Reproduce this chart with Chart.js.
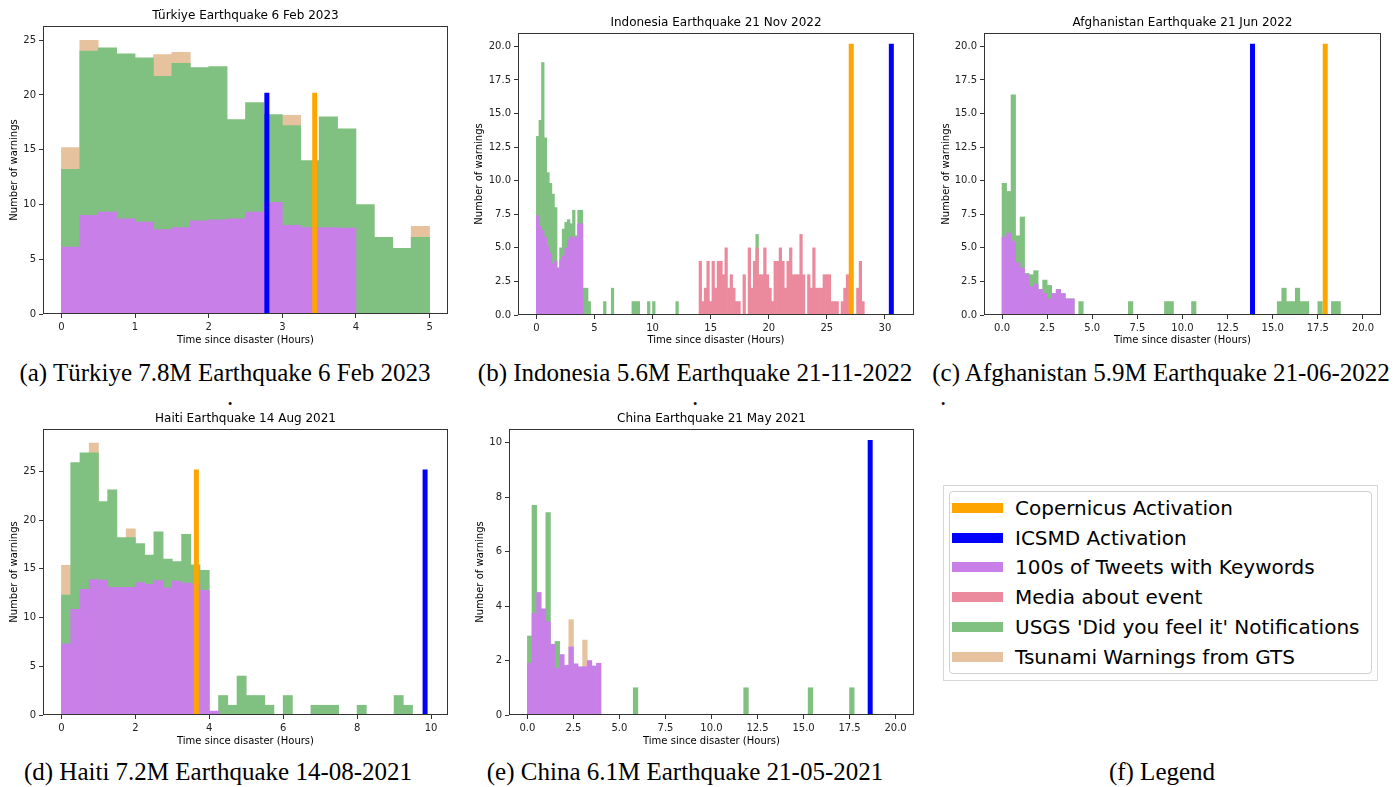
<!DOCTYPE html>
<html>
<head>
<meta charset="utf-8">
<script src="https://cdn.jsdelivr.net/npm/chart.js@4.4.1/dist/chart.umd.min.js"></script>
<style>
  body { margin: 0; background: #fff; width: 1395px; height: 787px; position: relative; overflow: hidden; font-family: 'DejaVu Sans', sans-serif; }
  .plot { position: absolute; }
  .cap { position: absolute; width: 600px; text-align: center; white-space: nowrap;
         font-family: 'Liberation Serif', 'Times New Roman', serif; font-size: 25px; line-height: 28px; color: #000; }
  #legendOuter { position: absolute; left: 943px; top: 485px; width: 435px; height: 196px; border: 1px solid #d8d8d8; box-sizing: border-box; }
  #legend { position: absolute; left: 949px; top: 491px; width: 423px; height: 183px; border: 1.5px solid #d0d0d0; border-radius: 4px; box-sizing: border-box; }
  .item { position: absolute; left: 0; height: 30px; line-height: 30px; font-size: 20px; color: #000; white-space: nowrap; }
  .item span.patch { position: absolute; left: 2px; top: 10px; width: 51px; height: 10px; }
  .item span.txt { position: absolute; left: 65px; top: 0; }
</style>
</head>
<body>

<div class="plot" id="tur"><canvas></canvas></div>
<div class="plot" id="indo"><canvas></canvas></div>
<div class="plot" id="afg"><canvas></canvas></div>
<div class="plot" id="hai"><canvas></canvas></div>
<div class="plot" id="chi"><canvas></canvas></div>

<div class="cap" style="left:-75px;top:359px">(a) Türkiye 7.8M Earthquake 6 Feb 2023</div>
<div class="cap" style="left:395px;top:359px">(b) Indonesia 5.6M Earthquake 21-11-2022</div>
<div class="cap" style="left:861px;top:359px">(c) Afghanistan 5.9M Earthquake 21-06-2022</div>
<div class="cap" style="left:-70px;top:383px">.</div>
<div class="cap" style="left:395px;top:383px">.</div>
<div class="cap" style="left:643px;top:383px">.</div>
<div class="cap" style="left:-82px;top:758px">(d) Haiti 7.2M Earthquake 14-08-2021</div>
<div class="cap" style="left:385px;top:758px">(e) China 6.1M Earthquake 21-05-2021</div>
<div class="cap" style="left:862px;top:758px">(f) Legend</div>

<div id="legendOuter"></div>
<div id="legend"></div>

<script>
// colours
const COPERNICUS = '#ffa500';
const ICSMD = '#0000ff';
const TWEETS = '#c880e8';
const MEDIA = '#ec8a9d';
const USGS = '#80c080';
const TSUNAMI = '#e6c29f';

const legendLabels = ['Copernicus Activation', 'ICSMD Activation', '100s of Tweets with Keywords',
  'Media about event', "USGS 'Did you feel it' Notifications", 'Tsunami Warnings from GTS'];
const legendColors = [COPERNICUS, ICSMD, TWEETS, MEDIA, USGS, TSUNAMI];

// ---- Türkiye, bins of 0.25 h
const turBin = 0.25;
const turTweets = [6.1, 9.0, 9.3, 8.7, 8.4, 7.7, 7.9, 8.5, 8.6, 8.7, 9.3, 10.2, 8.1, 7.9, 7.9, 7.85];
const turUsgs = [13.2, 24.0, 24.3, 23.75, 23.4, 21.7, 22.9, 22.5, 22.6, 17.75,
  19.3, 18.2, 17.2, 14.0, 18.0, 16.9, 10.0, 7.0, 6.0, 7.0];
const turTsunami = [15.2, 25.0, 0, 0, 0, 23.7, 23.9, 0, 0, 0,
  0, 0, 18.15, 0, 0, 0, 0, 0, 0, 8.0];
const turIcsmd = 2.79, turCopernicus = 3.44, turLineTop = 20.2;
const turXTicks = [0, 1, 2, 3, 4, 5];
const turYTicks = [0, 5, 10, 15, 20, 25];

// ---- Indonesia, bins of 2/9 h
const indoBin = 2 / 9;
const indoTweets = [7.4, 6.6, 6.3, 5.8, 5.1, 4.6, 3.8, 4.0, 3.5, 4.1, 4.4, 5.0, 5.6, 5.8, 5.8, 5.8, 6.8, 6.8];
const indoUsgs = [
  13.3, 14.5, 18.8, 13.2, 10.6, 9.8, 9.0, 8.0, 3.5, 5.0,
  6.4, 6.9, 7.1, 6.8, 7.8, 5.9, 7.8, 7.8, 2, 2,
  1, 0, 0, 0, 0, 0, 1, 0, 0, 2,
  0, 0, 0, 0, 0, 0, 0, 1, 1, 1,
  0, 0, 0, 1, 0, 1, 0, 0, 0, 0,
  0, 0, 0, 0, 1, 0, 0, 0, 0, 0,
  0, 0, 0, 0, 0, 0, 0, 0, 0, 0,
  0, 0, 0, 0, 0, 0, 0, 0, 0, 0,
  0, 0, 0, 0, 0, 6];
const indoMediaStart = 63;
const indoMedia = [
  4, 1, 2, 4, 1, 4, 2, 4, 4, 3,
  5, 2, 3, 2, 1, 1, 0, 3, 0, 5,
  2, 4, 5, 3, 3, 5, 3, 2, 1, 4,
  4, 5, 4, 2, 4, 5, 3, 3, 3, 6,
  3, 0, 3, 2, 5, 2, 2, 2, 3, 3,
  3, 1, 1, 1, 0, 1, 2, 3, 0, 0,
  0, 2, 4, 1];
const indoCopernicus = 27.1, indoIcsmd = 30.55, indoLineTop = 20.2;
const indoXTicks = [0, 5, 10, 15, 20, 25, 30];
const indoYTicks = [0, 2.5, 5, 7.5, 10, 12.5, 15, 17.5, 20];

// ---- Afghanistan, bins of 0.25 h
const afgBin = 0.25;
const afgTweets = [5.8, 6.1, 5.5, 3.9, 3.5, 3.0, 2.1, 2.3, 1.9, 1.6, 1.2, 1.6, 1.9, 1.6, 1.2, 1.2];
const afgUsgs = [
  9.8, 9.2, 16.4, 5.9, 7.3, 3.1, 3.0, 3.3, 1.9, 2.6,
  2.2, 1.6, 1.9, 1.6, 1.2, 1.2, 0, 1, 0, 0,
  0, 0, 0, 0, 0, 0, 0, 0, 1, 0,
  0, 0, 0, 0, 0, 0, 1, 1, 0, 0,
  0, 0, 1, 0, 0, 0, 0, 0, 0, 0,
  0, 0, 0, 0, 0, 0, 0, 0, 0, 0,
  0, 1, 2, 1, 1, 2, 1, 1, 0, 0,
  1, 0, 0, 1, 1];
const afgIcsmd = 13.88, afgCopernicus = 17.91, afgLineTop = 20.2;
const afgXTicks = [0, 2.5, 5, 7.5, 10, 12.5, 15, 17.5, 20];
const afgYTicks = [0, 2.5, 5, 7.5, 10, 12.5, 15, 17.5, 20];

// ---- Haiti, bins of 0.25 h
const haiBin = 0.25;
const haiTweets = [7.3, 10.85, 12.9, 13.9, 13.85, 13.1, 13.1, 13.1, 13.6, 13.4,
  13.8, 13.05, 13.75, 13.55, 13.45, 12.8, 0.4];
const haiUsgs = [12.3, 25.9, 26.9, 26.9, 21.9, 23.1, 18.2, 18.2, 17.6, 16.4,
  18.8, 16.0, 15.75, 18.55, 15.4, 14.85, 0, 2, 1, 4,
  2, 2, 1, 0, 2, 0, 0, 1, 1, 1,
  0, 0, 1, 0, 0, 0, 2, 1];
const haiTsunami = [15.35, 0, 0, 27.9, 0, 0, 0, 19.1];
const haiCopernicus = 3.65, haiIcsmd = 9.84, haiLineTop = 25.2;
const haiXTicks = [0, 2, 4, 6, 8, 10];
const haiYTicks = [0, 5, 10, 15, 20, 25];

// ---- China, bins of 0.25 h
const chiBin = 0.25;
const chiTweets = [1.9, 3.73, 4.5, 3.9, 3.43, 2.6, 1.72, 2.22, 1.82, 2.5, 1.88, 1.77, 1.77, 2.0, 1.8, 1.9];
const chiUsgs = [
  2.9, 7.7, 0, 0, 7.43, 0, 2.7, 0, 0, 0,
  0, 0, 0, 0, 0, 0, 0, 0, 0, 0,
  0, 0, 0, 1, 0, 0, 0, 0, 0, 0,
  0, 0, 0, 0, 0, 0, 0, 0, 0, 0,
  0, 0, 0, 0, 0, 0, 0, 1, 0, 0,
  0, 0, 0, 0, 0, 0, 0, 0, 0, 0,
  0, 1, 0, 0, 0, 0, 0, 0, 0, 0,
  1];
const chiTsunami = [0, 0, 0, 0, 0, 0, 0, 0, 0, 3.5, 0, 0, 2.75];
const chiIcsmd = 18.62, chiLineTop = 10.1;
const chiXTicks = [0, 2.5, 5, 7.5, 10, 12.5, 15, 17.5, 20];
const chiYTicks = [0, 2, 4, 6, 8, 10];

// histogram bins -> {x: bin centre, y: count}; empty bins are left out of the drawing
const binned = (vals, w, start = 0) => vals.map((v, i) => ({ x: (start + i + 0.5) * w, y: v || null }));
const vline = (x, top) => [{ x: x, y: 0 }, { x: x, y: top }];

const frame = {
  id: 'frame',
  afterDraw(chart) {
    const { ctx, chartArea: a } = chart;
    ctx.save();
    ctx.strokeStyle = '#333';
    ctx.lineWidth = 1;
    const l = Math.round(a.left) + 0.5, t = Math.round(a.top) + 0.5;
    ctx.strokeRect(l, t, Math.round(a.right) - Math.round(a.left) - 1, Math.round(a.bottom) - Math.round(a.top) - 1);
    ctx.restore();
  }
};

const FONT = 'DejaVu Sans';

function plot(id, g, o) {
  const box = document.getElementById(id);
  const left = g.yLab - 6, top = g.axT - 17, xH = g.xLab + 6;
  box.style.left = left + 'px';
  box.style.top = top + 'px';
  box.style.width = (g.axR + 4 - left) + 'px';
  box.style.height = (g.axB + xH - top) + 'px';
  const yW = g.axL - left;

  const datasets = [];
  o.lines.forEach((ln, k) => datasets.push({
    type: 'line', label: ln.label, data: vline(ln.x, ln.top),
    borderColor: ln.color, borderWidth: 5, pointRadius: 0, borderCapStyle: 'butt', order: k
  }));
  o.bars.forEach((b, k) => datasets.push({
    type: 'bar', label: b.label, data: binned(b.data, o.bin, b.start || 0),
    backgroundColor: b.color, borderWidth: 0, barPercentage: 1, categoryPercentage: 1,
    grouped: false, order: 10 + k
  }));

  const tickFont = { family: FONT, size: 10 };
  new Chart(box.querySelector('canvas'), {
    type: 'bar',
    data: { datasets },
    plugins: [frame],
    options: {
      responsive: true, maintainAspectRatio: false, animation: false,
      layout: { padding: { left: 0, top: 0, right: 4, bottom: 0 } },
      plugins: {
        legend: { display: false },
        tooltip: { enabled: false },
        title: {
          display: true, text: o.title, fullSize: false, color: '#000',
          font: { family: FONT, size: 12, weight: 'normal', lineHeight: '14px' },
          padding: { top: 0, bottom: 3 }
        }
      },
      scales: {
        x: {
          type: 'linear', min: o.xMin, max: o.xMax, offset: false,
          afterBuildTicks: (ax) => { ax.ticks = o.xTicks.map(v => ({ value: v })); },
          afterFit: (ax) => { ax.height = xH; },
          ticks: { font: tickFont, color: '#222', padding: 3, maxRotation: 0, autoSkip: false,
                   callback: (v) => v.toFixed(o.xDec) },
          grid: { offset: false, drawOnChartArea: false, drawTicks: true, tickLength: 4, color: '#333' },
          border: { display: false },
          title: { display: true, text: 'Time since disaster (Hours)', color: '#000',
                   font: { family: FONT, size: 10, lineHeight: '12px' }, padding: 0 }
        },
        y: {
          type: 'linear', min: 0, max: o.yMax,
          afterBuildTicks: (ax) => { ax.ticks = o.yTicks.map(v => ({ value: v })); },
          afterFit: (ax) => { ax.width = yW; },
          ticks: { font: tickFont, color: '#222', padding: 3, autoSkip: false,
                   callback: (v) => v.toFixed(o.yDec) },
          grid: { drawOnChartArea: false, drawTicks: true, tickLength: 4, color: '#333' },
          border: { display: false },
          title: { display: true, text: 'Number of warnings', color: '#000',
                   font: { family: FONT, size: 10, lineHeight: '12px' }, padding: 0 }
        }
      }
    }
  });
}

plot('tur', { axL: 43, axT: 26, axR: 448, axB: 314, yLab: 14, xLab: 26 }, {
  title: 'Türkiye Earthquake 6 Feb 2023', bin: turBin,
  xMin: -0.25, xMax: 5.25, yMax: 26.3, xTicks: turXTicks, yTicks: turYTicks, xDec: 0, yDec: 0,
  lines: [
    { label: legendLabels[1], x: turIcsmd, top: turLineTop, color: ICSMD },
    { label: legendLabels[0], x: turCopernicus, top: turLineTop, color: COPERNICUS }
  ],
  bars: [
    { label: legendLabels[2], data: turTweets, color: TWEETS },
    { label: legendLabels[4], data: turUsgs, color: USGS },
    { label: legendLabels[5], data: turTsunami, color: TSUNAMI }
  ]
});

plot('indo', { axL: 518, axT: 33, axR: 914, axB: 315, yLab: 479, xLab: 25 }, {
  title: 'Indonesia Earthquake 21 Nov 2022', bin: indoBin,
  xMin: -1.58, xMax: 32.5, yMax: 21.0, xTicks: indoXTicks, yTicks: indoYTicks, xDec: 0, yDec: 1,
  lines: [
    { label: legendLabels[0], x: indoCopernicus, top: indoLineTop, color: COPERNICUS },
    { label: legendLabels[1], x: indoIcsmd, top: indoLineTop, color: ICSMD }
  ],
  bars: [
    { label: legendLabels[2], data: indoTweets, color: TWEETS },
    { label: legendLabels[3], data: indoMedia, color: MEDIA, start: indoMediaStart },
    { label: legendLabels[4], data: indoUsgs, color: USGS }
  ]
});

plot('afg', { axL: 984, axT: 33, axR: 1381, axB: 315, yLab: 946, xLab: 25 }, {
  title: 'Afghanistan Earthquake 21 Jun 2022', bin: afgBin,
  xMin: -1, xMax: 21, yMax: 21.0, xTicks: afgXTicks, yTicks: afgYTicks, xDec: 1, yDec: 1,
  lines: [
    { label: legendLabels[1], x: afgIcsmd, top: afgLineTop, color: ICSMD },
    { label: legendLabels[0], x: afgCopernicus, top: afgLineTop, color: COPERNICUS }
  ],
  bars: [
    { label: legendLabels[2], data: afgTweets, color: TWEETS },
    { label: legendLabels[4], data: afgUsgs, color: USGS }
  ]
});

plot('hai', { axL: 43, axT: 429, axR: 448, axB: 715, yLab: 14, xLab: 26 }, {
  title: 'Haiti Earthquake 14 Aug 2021', bin: haiBin,
  xMin: -0.5, xMax: 10.46, yMax: 29.35, xTicks: haiXTicks, yTicks: haiYTicks, xDec: 0, yDec: 0,
  lines: [
    { label: legendLabels[0], x: haiCopernicus, top: haiLineTop, color: COPERNICUS },
    { label: legendLabels[1], x: haiIcsmd, top: haiLineTop, color: ICSMD }
  ],
  bars: [
    { label: legendLabels[2], data: haiTweets, color: TWEETS },
    { label: legendLabels[4], data: haiUsgs, color: USGS },
    { label: legendLabels[5], data: haiTsunami, color: TSUNAMI }
  ]
});

plot('chi', { axL: 509, axT: 429, axR: 914, axB: 715, yLab: 480, xLab: 26 }, {
  title: 'China Earthquake 21 May 2021', bin: chiBin,
  xMin: -1, xMax: 21, yMax: 10.5, xTicks: chiXTicks, yTicks: chiYTicks, xDec: 1, yDec: 0,
  lines: [
    { label: legendLabels[1], x: chiIcsmd, top: chiLineTop, color: ICSMD }
  ],
  bars: [
    { label: legendLabels[2], data: chiTweets, color: TWEETS },
    { label: legendLabels[4], data: chiUsgs, color: USGS },
    { label: legendLabels[5], data: chiTsunami, color: TSUNAMI }
  ]
});

// legend panel (f)
const leg = document.getElementById('legend');
legendLabels.forEach((label, i) => {
  const row = document.createElement('div');
  row.className = 'item';
  row.style.top = (0.7 + i * 29.8) + 'px';
  row.innerHTML = '<span class="patch" style="background:' + legendColors[i] + '"></span><span class="txt"></span>';
  row.querySelector('.txt').textContent = label;
  leg.appendChild(row);
});
</script>
</body>
</html>
